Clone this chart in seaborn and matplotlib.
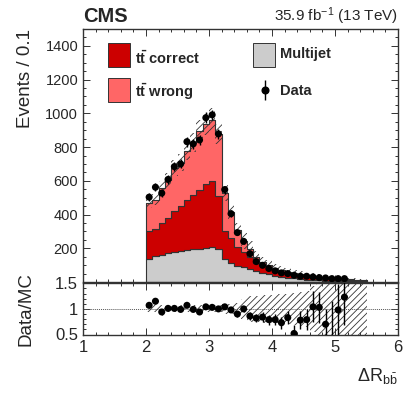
import numpy as np
import pandas as pd
import matplotlib
matplotlib.use("Agg")
import matplotlib.pyplot as plt
import seaborn as sns
from matplotlib.patches import Rectangle
from matplotlib.ticker import MultipleLocator

# binning: 0.1 wide bins from 2.0 to 5.5
edges = np.round(np.arange(2.0, 5.55, 0.1), 2)
centers = edges[:-1] + 0.05

# stacked MC components (events / bin)
multijet = [139, 155, 160, 170, 176, 183, 190, 194, 198, 202,
            208, 198, 139, 115, 97, 89, 76, 66, 55, 46,
            38, 32, 26, 21, 17, 14, 12, 10, 8, 7,
            6, 5, 4, 4, 3]
tt_correct = [161, 161, 192, 211, 242, 269, 294, 319, 349, 380,
              392, 312, 166, 147, 113, 86, 74, 47, 43, 36,
              30, 25, 22, 19, 17, 14, 12, 10, 9, 8,
              7, 6, 5, 4, 4]
tt_wrong = [170, 173, 208, 221, 259, 255, 294, 314, 349, 355,
            362, 368, 222, 151, 100, 66, 45, 35, 20, 19,
            16, 15, 14, 14, 13, 13, 11, 10, 9, 8,
            7, 7, 6, 5, 4]
# relative MC uncertainty per bin
mc_unc = [0.07, 0.07, 0.07, 0.07, 0.07, 0.07, 0.07, 0.07, 0.07, 0.07,
          0.07, 0.07, 0.09, 0.10, 0.12, 0.20, 0.25, 0.25, 0.27, 0.27,
          0.28, 0.30, 0.30, 0.32, 0.33, 0.35, 0.45, 0.60, 0.60, 0.60,
          0.60, 0.60, 0.60, 0.60, 0.60]

# data points
data = [503, 562, 527, 608, 684, 700, 832, 819, 842, 974,
        991, 878, 548, 405, 293, 241, 168, 121, 99, 80,
        66, 54, 50, 40, 34, 34, 30, 26, 24, 20,
        20, 20]
ratio = [1.07, 1.15, 0.94, 1.01, 1.01, 0.99, 1.07, 0.99, 0.94, 1.04,
         1.03, 1.00, 1.04, 0.98, 0.90, 1.00, 0.86, 0.82, 0.84, 0.79,
         0.79, 0.73, 0.83, 0.52, 0.78, 0.79, 1.04, 1.03, 0.70, 0.35,
         0.98, 1.23]
ratio_err = [0.05, 0.05, 0.05, 0.04, 0.04, 0.04, 0.04, 0.04, 0.04, 0.035,
             0.035, 0.035, 0.045, 0.05, 0.055, 0.065, 0.07, 0.08, 0.09, 0.10,
             0.11, 0.12, 0.13, 0.16, 0.18, 0.20, 0.30, 0.30, 0.30, 0.80,
             0.50, 0.55]

c_correct = "#cc0000"
c_wrong = "#ff6666"
c_multijet = "#cccccc"

sns.set_style("ticks")
plt.rcParams["font.family"] = ["Liberation Sans", "DejaVu Sans"]
plt.rcParams["mathtext.fontset"] = "custom"
plt.rcParams["mathtext.rm"] = "Liberation Sans"
plt.rcParams["mathtext.it"] = "Liberation Sans:italic"
plt.rcParams["mathtext.bf"] = "Liberation Sans:bold"
plt.rcParams["hatch.linewidth"] = 0.6

fig = plt.figure(figsize=(4.15, 3.99), dpi=100)
W, H = 415, 399
left, right = 83 / W, 398 / W
ax = fig.add_axes([left, 1 - 282 / H, right - left, (282 - 29) / H])
rax = fig.add_axes([left, 1 - 334.5 / H, right - left, (334.5 - 283.3) / H])

n = len(centers)
df = pd.DataFrame({
    "x": np.concatenate([centers, centers, centers]),
    "w": multijet + tt_correct + tt_wrong,
    "comp": ["Multijet"] * n + ["tt correct"] * n + ["tt wrong"] * n,
})
sns.histplot(data=df, x="x", weights="w", hue="comp",
             hue_order=["tt wrong", "tt correct", "Multijet"],
             palette={"Multijet": c_multijet, "tt correct": c_correct, "tt wrong": c_wrong},
             multiple="stack", bins=list(edges), element="step", fill=True, alpha=1,
             edgecolor="#333333", linewidth=0.8, legend=False, ax=ax)

total = np.array(multijet) + np.array(tt_correct) + np.array(tt_wrong)
unc = np.array(mc_unc)
lo = np.append(total * (1 - unc), total[-1] * (1 - unc[-1]))
hi = np.append(total * (1 + unc), total[-1] * (1 + unc[-1]))
ax.fill_between(edges, lo, hi, step="post", facecolor="none", edgecolor="#333333",
                hatch="/////", linewidth=0, zorder=3)

data_x = centers[:len(data)]
ax.errorbar(data_x, data, yerr=np.sqrt(data), fmt="none", ecolor="black", lw=1, zorder=5)
sns.scatterplot(x=data_x, y=data, color="black", s=26, edgecolor="none", ax=ax, zorder=6)

ax.set_xlim(1, 6)
ax.set_ylim(0, 1500)
ax.set_xlabel("")
ax.set_ylabel("Events / 0.1", fontsize=13.5, ha="right", y=1.0)
ax.yaxis.set_label_coords(-0.155, 1.0)
ax.set_xticklabels([])
ax.set_yticks([200, 400, 600, 800, 1000, 1200, 1400])
ax.yaxis.set_minor_locator(MultipleLocator(50))
ax.xaxis.set_major_locator(MultipleLocator(1))
ax.xaxis.set_minor_locator(MultipleLocator(0.2))
ax.tick_params(axis="y", labelsize=10.5)

# ratio panel
lo_r = np.append(1 - unc, 1 - unc[-1])
hi_r = np.append(1 + unc, 1 + unc[-1])
rax.fill_between(edges, lo_r, hi_r, step="post", facecolor="none", edgecolor="#333333",
                 hatch="/////", linewidth=0, zorder=2)
rax.axhline(1, color="#555555", lw=0.7, ls=(0, (1, 1)), zorder=1)
rax.errorbar(data_x, ratio, yerr=ratio_err, fmt="none", ecolor="black", lw=1, zorder=4)
sns.scatterplot(x=data_x, y=ratio, color="black", s=26, edgecolor="none", ax=rax, zorder=5)
rax.set_xlim(1, 6)
rax.set_ylim(0.5, 1.5)
rax.set_yticks([0.5, 1, 1.5])
rax.set_yticklabels(["0.5", "1", "1.5"])
rax.yaxis.set_minor_locator(MultipleLocator(0.1))
rax.xaxis.set_major_locator(MultipleLocator(1))
rax.xaxis.set_minor_locator(MultipleLocator(0.2))
rax.set_ylabel("Data/MC", fontsize=13.5)
rax.yaxis.set_label_coords(-0.155, 0.5)
rax.tick_params(axis="both", labelsize=12)
rax.tick_params(axis="x", pad=4)

for a in (ax, rax):
    a.tick_params(which="both", direction="in", top=True, right=True, width=0.7, color="#333333")
    a.tick_params(which="major", length=5)
    a.tick_params(which="minor", length=2.5)
    for s in a.spines.values():
        s.set_linewidth(1.0)
        s.set_color("#333333")

fig.text(right, 1 - 376 / H, r"$\Delta\mathrm{R}_{\mathrm{b\bar{b}}}$", ha="right", va="center", fontsize=13)

# header
fig.text(left, 1 - 16.5 / H, "CMS", fontsize=14.5, fontweight="bold", ha="left", va="center")
fig.text(right, 1 - 16.5 / H, r"35.9 fb$^{-1}$ (13 TeV)", fontsize=11, ha="right", va="center")

# legend
def box(x0, y0, color):
    ax.add_patch(Rectangle((x0, y0), 0.07, 0.095, transform=ax.transAxes, facecolor=color,
                           edgecolor="#333333", lw=0.7, zorder=7))

box(0.079, 0.850, c_correct)
box(0.079, 0.711, c_wrong)
box(0.540, 0.850, c_multijet)
ax.text(0.165, 0.885, r"$\mathbf{t\bar{t}}$ correct", transform=ax.transAxes, fontsize=10.5,
        fontweight="bold", va="center")
ax.text(0.165, 0.752, r"$\mathbf{t\bar{t}}$ wrong", transform=ax.transAxes, fontsize=10.5,
        fontweight="bold", va="center")
ax.text(0.625, 0.901, "Multijet", transform=ax.transAxes, fontsize=10.5, fontweight="bold", va="center")
ax.text(0.625, 0.755, "Data", transform=ax.transAxes, fontsize=10.5, fontweight="bold", va="center")
ax.errorbar([0.578], [0.759], yerr=[0.04], fmt="o", color="black", ms=4.8, lw=1,
            transform=ax.transAxes, zorder=7)

fig.savefig("out.png", dpi=100)
